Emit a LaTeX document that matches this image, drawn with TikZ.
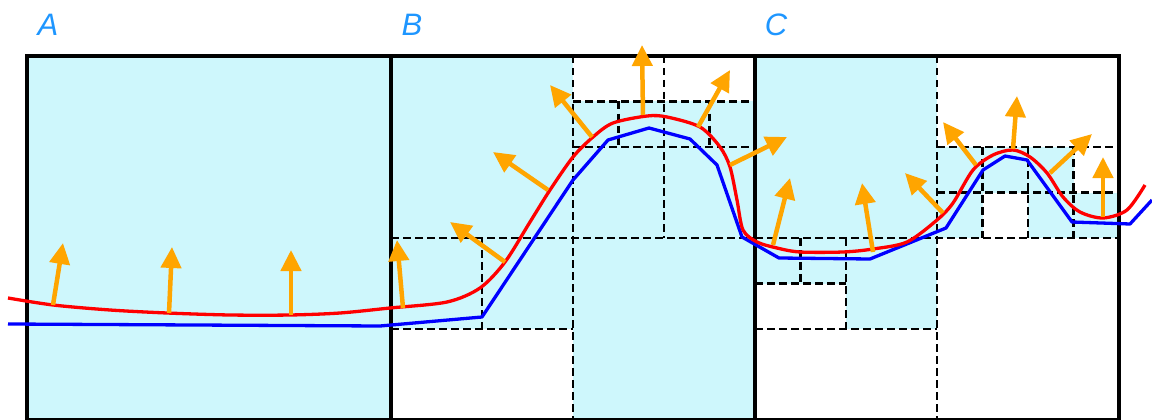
\documentclass[tikz,border=0pt]{standalone}
\usepackage{fontspec}
\setmainfont{Liberation Sans}
\usetikzlibrary{arrows.meta}
\definecolor{cellcyan}{RGB}{206,247,252}
\definecolor{lblue}{RGB}{30,150,255}
\definecolor{arrorange}{RGB}{255,165,0}
\tikzset{
  cell/.style={fill=cellcyan, draw=none},
  grid/.style={black, line width=2.2pt, dash pattern=on 7.5pt off 4.5pt},
  frame/.style={black, line width=3.3pt},
  lbl/.style={text=lblue, font=\fontsize{31}{31}\selectfont\itshape, inner sep=0pt},
  normal/.style={arrorange, line width=4.5pt, -{Triangle[length=21pt,width=20pt]}},
  front/.style={red, line width=3.3pt, line join=round},
  poly/.style={blue, line width=3.3pt, line join=round}
}
\begin{document}
\begin{tikzpicture}[x=1pt,y=-1pt]
\useasboundingbox (0,0) rectangle (1152,420);
% cyan cells
\fill[cell] (27,56) rectangle (391,420);
\fill[cell] (391,56) rectangle (573,329);
\fill[cell] (573,101.5) rectangle (755,420);
\fill[cell] (755,56) rectangle (937,283.5);
\fill[cell] (846,238) rectangle (937,329);
\fill[cell] (937,147) rectangle (1073.5,192.5);
\fill[cell] (937,192.5) rectangle (982.5,238);
\fill[cell] (1028,192.5) rectangle (1119,238);
% dashed quadtree lines, cell B
\draw[grid] (573,56) -- (573,420);
\draw[grid] (391,238) -- (755,238);
\draw[grid] (482,238) -- (482,329);
\draw[grid] (391,329) -- (573,329);
\draw[grid] (664,56) -- (664,238);
\draw[grid] (573,147) -- (755,147);
\draw[grid] (573,101.5) -- (755,101.5);
\draw[grid] (618.5,101.5) -- (618.5,147);
\draw[grid] (709.5,101.5) -- (709.5,147);
% dashed quadtree lines, cell C
\draw[grid] (937,56) -- (937,420);
\draw[grid] (755,238) -- (1119,238);
\draw[grid] (755,329) -- (937,329);
\draw[grid] (846,238) -- (846,329);
\draw[grid] (755,283.5) -- (846,283.5);
\draw[grid] (800.5,238) -- (800.5,283.5);
\draw[grid] (937,147) -- (1119,147);
\draw[grid] (937,192.5) -- (1119,192.5);
\draw[grid] (1028,147) -- (1028,238);
\draw[grid] (982.5,147) -- (982.5,238);
\draw[grid] (1073.5,147) -- (1073.5,238);
% solid frame
\draw[frame] (27,420) -- (27,56) -- (1119,56) -- (1119,420) -- cycle;
\draw[frame] (391,56) -- (391,420);
\draw[frame] (755,56) -- (755,420);
% labels
\node[lbl] (la) at (48,25) {A};
\node[lbl] (lb) at (412,25) {B};
\node[lbl] (lc) at (776,25) {C};
% blue polyline
\draw[poly] (8,324) -- (380,326) -- (482,317) -- (573,180) -- (608,140) -- (649,128) -- (690,139) -- (717,165) -- (742,237) -- (779,258) -- (870,259) -- (946,228) -- (983,170) -- (1005,156) -- (1027,160) -- (1072,222) -- (1130,224) -- (1152,200);
% red front
\draw[front] plot[smooth, tension=0.5] coordinates {(8,298) (53,305) (110,310) (167,313) (230,315) (290,315) (340,313) (390,308) (447,302) (480,288) (505,262) (530,222) (550,190) (573,157) (593,137) (613,123) (647,116) (667,117) (700,127) (720,147) (730,167) (737,200) (743,230) (757,242) (777,248) (800,252) (843,252) (873,249) (907,242) (937,220) (953,203) (973,170) (993,155) (1013,150) (1030,157) (1047,173) (1063,197) (1080,212) (1103,218) (1127,210) (1145,185)};
% normals
\draw[normal] (53,305) -- (63,243);
\draw[normal] (169,313) -- (172,247);
\draw[normal] (291,315) -- (291,250);
\draw[normal] (403,308) -- (397,240);
\draw[normal] (505,262) -- (450,222);
\draw[normal] (548,190) -- (493,152);
\draw[normal] (592,137) -- (550,85);
\draw[normal] (643,115) -- (642,45);
\draw[normal] (698,127) -- (730,70);
\draw[normal] (730,165) -- (787,137);
\draw[normal] (773,245) -- (790,178);
\draw[normal] (873,252) -- (862,183);
\draw[normal] (943,213) -- (905,173);
\draw[normal] (976,165) -- (943,122);
\draw[normal] (1013,149) -- (1017,96);
\draw[normal] (1050,173) -- (1092,134);
\draw[normal] (1103,217) -- (1103,157);
\end{tikzpicture}
\end{document}
